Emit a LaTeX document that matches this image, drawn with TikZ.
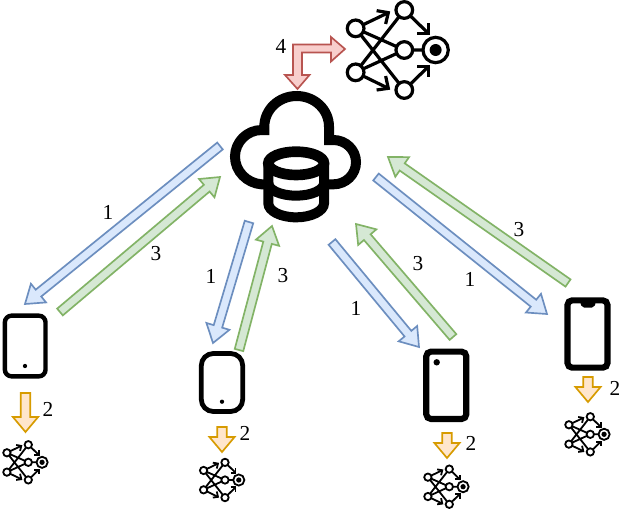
\documentclass[tikz,border=0pt]{standalone}
\usepackage{fontspec}
\setmainfont{Liberation Serif}
\usetikzlibrary{calc}
\definecolor{bluefill}{HTML}{DAE8FC}\definecolor{bluedraw}{HTML}{6C8EBF}
\definecolor{greenfill}{HTML}{D5E8D4}\definecolor{greendraw}{HTML}{82B366}
\definecolor{redfill}{HTML}{F8CECC}\definecolor{reddraw}{HTML}{B85450}
\definecolor{orangefill}{HTML}{FFE6CC}\definecolor{orangedraw}{HTML}{D79B00}
\tikzset{
  x=.75pt,y=-.75pt,
  bluearrow/.style={fill=bluefill,draw=bluedraw,line width=1.25pt,line join=miter},
  greenarrow/.style={fill=greenfill,draw=greendraw,line width=1.25pt,line join=miter},
  redarrow/.style={fill=redfill,draw=reddraw,line width=1.25pt,line join=miter},
  orangearrow/.style={fill=orangefill,draw=orangedraw,line width=1.25pt,line join=miter},
  phone/.style={draw=black,fill=white},
  lbl/.style={font=\fontsize{16}{18}\selectfont,inner sep=0pt},
}
% block arrow between two named coordinates: from, to, style, half shaft, half head, head length (pt)
\newcommand\blockarrow[6]{%
  \coordinate (neck) at ($(#2)!#6pt!(#1)$);
  \draw[#3] ($(#1)!#4pt!90:(#2)$) -- ($(neck)!#4pt!-90:(#1)$) -- ($(neck)!#5pt!-90:(#1)$)
    -- (#2) -- ($(neck)!#5pt!90:(#1)$) -- ($(neck)!#4pt!90:(#1)$) -- ($(#1)!#4pt!-90:(#2)$) -- cycle;
}
\newcommand\nnicon[4]{%
  \pgfmathsetmacro\ks{.25*#3}
  \begin{scope}[shift={(#1,#2)},x=\ks pt,y=-\ks pt,line width=#4pt,black,miter limit=10]
    \coordinate (it) at (-146,-65);\coordinate (ib) at (-146,67);
    \coordinate (t) at (0,-120);\coordinate (m) at (0,0);\coordinate (b) at (0,120);\coordinate (o) at (94,0);
    \draw (it)--(m) (it)--(b) (ib)--(t) (ib)--(m) (m)--(o);
    \draw (it)--(-48,-112) (ib)--(-48,115) (t)--(72,-50) (b)--(72,50);
    \draw (-83,-118)--(-48,-112)--(-56,-78);
    \draw (-83,120)--(-48,115)--(-56,78);
    \draw (39,-50)--(72,-50)--(72,-82);
    \draw (39,50)--(72,50)--(72,82);
    \foreach \p in {it,ib,t,m,b}{\filldraw[fill=white] (\p) circle (25);}
    \filldraw[fill=white] (o) circle (38);
    \fill (o) circle (18);
  \end{scope}}
\begin{document}
\begin{tikzpicture}
\useasboundingbox (0,0) rectangle (622,508);
\fill[white] (0,0) rectangle (622,508);

% block arrows
\coordinate (b1a) at (220,146);\coordinate (b1b) at (25,304);
\coordinate (g1a) at (60,312);\coordinate (g1b) at (220,177);
\coordinate (b2a) at (249,222);\coordinate (b2b) at (213,343);
\coordinate (g2a) at (239,350);\coordinate (g2b) at (272,226);
\coordinate (b3a) at (332,242);\coordinate (b3b) at (419,347);
\coordinate (g3a) at (453,337);\coordinate (g3b) at (356,224);
\coordinate (b4a) at (376,177);\coordinate (b4b) at (547,314);
\coordinate (g4a) at (568,283);\coordinate (g4b) at (388,157);
\foreach \a/\b in {b1a/b1b,b2a/b2b,b3a/b3b,b4a/b4b}{\blockarrow{\a}{\b}{bluearrow}{3.3}{9}{13}}
\foreach \a/\b in {g1a/g1b,g2a/g2b,g3a/g3b,g4a/g4b}{\blockarrow{\a}{\b}{greenarrow}{3.3}{9}{13}}

% orange arrows
\coordinate (o1a) at (25.5,393);\coordinate (o1b) at (25.5,432);
\coordinate (o2a) at (222,427);\coordinate (o2b) at (222,452);
\coordinate (o3a) at (447,433);\coordinate (o3b) at (447,458);
\coordinate (o4a) at (588,377);\coordinate (o4b) at (588,402);
\foreach \a/\b in {o1a/o1b,o2a/o2b,o3a/o3b,o4a/o4b}{\blockarrow{\a}{\b}{orangearrow}{3.6}{9.4}{11.2}}

% red elbow arrow
\draw[redarrow] (297.5,89)--(285,75)--(293,75)--(293,44.5)--(331,44.5)--(331,37)--(345,49)--(331,61.5)--(331,52.5)--(302,52.5)--(302,75)--(309.5,75)--cycle;

% cloud with database
\begin{scope}[shift={(220,0)},x=.25pt,y=-.25pt,line width=7.5pt,black]
  \draw[line join=miter] (145,553)--(125,553) .. controls (81,550) and (45,514) .. (45,470)
     .. controls (45,426) and (81,390) .. (125,390) -- (133,390) -- (133,380)
     .. controls (133,329) and (176,288) .. (230,288)
     .. controls (284,288) and (327,329) .. (327,380) -- (327,420) -- (340,420)
     .. controls (378,420) and (408,450) .. (408,486.5)
     .. controls (408,523) and (378,553) .. (340,553) -- (312,553);
  \draw[fill=white] (145,490) -- (145,610) .. controls (145,633) and (182,652) .. (228.5,652)
     .. controls (274,652) and (312,633) .. (312,610) -- (312,490);
  \draw[fill=white,line width=8pt] (228.5,490) ellipse [x radius=83.5,y radius=35];
  \draw (145,550) .. controls (145,570) and (182,587) .. (228.5,587)
     .. controls (274,587) and (312,570) .. (312,550);
\end{scope}

% networks
\nnicon{404.3}{50}{1}{2.4}
\nnicon{28.3}{462.3}{.44}{1.35}
\nnicon{225}{480}{.44}{1.35}
\nnicon{449.3}{486.7}{.44}{1.35}
\nnicon{590.3}{434.3}{.44}{1.35}

% phones
\node[phone,line width=3.3pt,rounded corners=5pt,minimum width=30.5pt,minimum height=45.5pt,inner sep=0pt] (p1) at (25.2,346) {};
\fill (25,366) circle (1.6pt);
\node[phone,line width=3.6pt,rounded corners=9pt,minimum width=31pt,minimum height=43.5pt,inner sep=0pt] (p2) at (222,382.5) {};
\fill (222,401.7) circle (1.6pt);
\node[phone,line width=4.6pt,rounded corners=3.5pt,minimum width=30pt,minimum height=50.5pt,inner sep=0pt] (p3) at (446.3,385.3) {};
\fill (436.7,362.3) circle (2.4pt);
\node[phone,line width=4.6pt,rounded corners=3.5pt,minimum width=30pt,minimum height=50.5pt,inner sep=0pt] (p4) at (587.5,334) {};
\fill[rounded corners=1.5pt] (580,302)--(596,302)--(594,307.5)--(582,307.5)--cycle;

% labels
\node[lbl] (l1) at (108,212) {1};
\node[lbl] (l2) at (156,254) {3};
\node[lbl] (l3) at (211,276) {1};
\node[lbl] (l4) at (283,276) {3};
\node[lbl] (l5) at (356,308) {1};
\node[lbl] (l6) at (418,264) {3};
\node[lbl] (l7) at (470,279) {1};
\node[lbl] (l8) at (519,230) {3};
\node[lbl] (l9) at (281,46) {4};
\node[lbl] (l10) at (48,409) {2};
\node[lbl] (l11) at (245,433) {2};
\node[lbl] (l12) at (471,443) {2};
\node[lbl] (l13) at (615,388) {2};
\end{tikzpicture}
\end{document}
